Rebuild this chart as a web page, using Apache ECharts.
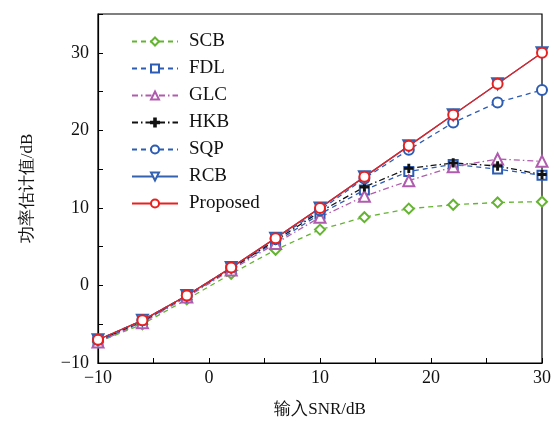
<!DOCTYPE html>
<head>
    <meta charset="utf-8"/>
    <style>
        html,body { height:100%; width:100%; margin:0; padding:0; background:#fff; }
    </style>
</head>
<body>
<div id="main" style="width:554px;height:423px"></div>
<script src="https://cdn.jsdelivr.net/npm/echarts@6/dist/echarts.min.js"></script>
<script type="text/javascript">
 // 数据
 var snr = [-10, -6, -2, 2, 6, 10, 14, 18, 22, 26, 30];
 var scb = [-7.3, -5.0, -1.8, 1.5, 4.6, 7.2, 8.8, 9.9, 10.4, 10.7, 10.8];
 var fdl = [-7.2, -4.7, -1.4, 2.2, 5.6, 9.2, 12.3, 14.7, 15.6, 15.0, 14.2];
 var glc = [-7.3, -4.8, -1.5, 2.0, 5.4, 8.8, 11.5, 13.5, 15.3, 16.3, 16.0];
 var hkb = [-7.1, -4.6, -1.3, 2.2, 5.8, 9.5, 12.7, 15.1, 15.8, 15.4, 14.3];
 var sqp = [-7.0, -4.5, -1.3, 2.3, 6.0, 9.7, 13.8, 17.5, 21.0, 23.6, 25.2];
 var rcb = [-7.0, -4.5, -1.3, 2.3, 6.1, 10.0, 14.0, 18.0, 22.0, 26.0, 30.0];
 var prop = [-7.0, -4.5, -1.3, 2.3, 6.1, 10.0, 14.0, 18.0, 22.0, 26.0, 30.0];
 var names = ['SCB', 'FDL', 'GLC', 'HKB', 'SQP', 'RCB', 'Proposed'];

 var serif = '"Liberation Serif", "DejaVu Serif", serif';

 function pairs(arr){
     return snr.map(function(x, i){ return [x, arr[i]]; });
 }
 function fmt(v){
     if (v % 10 !== 0) return '';
     return v < 0 ? '\u2212' + (-v) : '' + v;
 }

 var plusPath = 'path://M4,0H6V4H10V6H6V10H4V6H0V4H4Z';

 function mkSeries(name, data, color, dash, symbol, size, extra){
     var s = {
         name: name,
         type: 'line',
         data: pairs(data),
         symbol: symbol,
         symbolSize: size,
         lineStyle: { color: color, width: 1.3, type: dash },
         itemStyle: { color: color, borderColor: color, borderWidth: 1.3 },
         emphasis: { disabled: true },
         z: 2
     };
     if (extra) for (var k in extra) s[k] = extra[k];
     return s;
 }

 var chart = echarts.init(document.getElementById('main'));
 chart.setOption({
     animation: false,
     textStyle: { fontFamily: serif },
     grid: {
         left: 98, right: 12, top: 14, bottom: 59,
         show: true, borderColor: '#000', borderWidth: 1.2
     },
     legend: {
         orient: 'vertical',
         left: 126, top: 27,
         itemWidth: 46, itemHeight: 10, itemGap: 8,
         textStyle: { fontFamily: serif, fontSize: 19, color: '#111', padding: [0, 0, 0, 6], lineHeight: 19 },
         data: names
     },
     xAxis: {
         type: 'value', min: -10, max: 30, interval: 5,
         name: '输入SNR/dB', nameLocation: 'middle', nameGap: 38,
         nameTextStyle: { fontFamily: serif, fontSize: 17, color: '#111' },
         axisLine: { onZero: false, lineStyle: { color: '#000', width: 1.2 } },
         axisTick: { inside: true, length: 5, lineStyle: { color: '#000' } },
         axisLabel: { formatter: fmt, fontSize: 18, color: '#111', margin: 6, fontFamily: serif },
         splitLine: { show: false }
     },
     yAxis: {
         type: 'value', min: -10, max: 35, interval: 5,
         name: '功率估计值/dB', nameLocation: 'middle', nameGap: 62,
         nameTextStyle: { fontFamily: serif, fontSize: 17, color: '#111' },
         axisLine: { onZero: false, lineStyle: { color: '#000', width: 1.2 } },
         axisTick: { inside: true, length: 5, lineStyle: { color: '#000' } },
         axisLabel: { formatter: fmt, fontSize: 18, color: '#111', margin: 9, fontFamily: serif },
         splitLine: { show: false }
     },
     series: [
         mkSeries('SCB', scb, '#64b432', [5, 4], 'emptyDiamond', 10),
         mkSeries('FDL', fdl, '#2c5cb4', [5, 4], 'emptyRect', 9),
         mkSeries('GLC', glc, '#b05cae', [6, 3, 1.5, 3], 'emptyTriangle', 11),
         mkSeries('HKB', hkb, '#111111', [6, 3, 1.5, 3], plusPath, 8),
         mkSeries('SQP', sqp, '#2c5cb4', [5, 4], 'emptyCircle', 10),
         mkSeries('RCB', rcb, '#3461b0', 'solid', 'emptyTriangle', 11, { symbolRotate: 180 }),
         mkSeries('Proposed', prop, '#e8211f', 'solid', 'emptyCircle', 10)
     ]
 });
</script>
</body>
